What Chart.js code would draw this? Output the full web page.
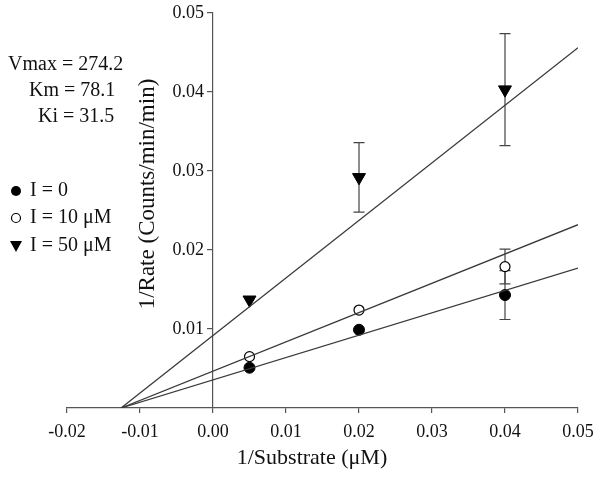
<!DOCTYPE html>
<html>
<head>
<meta charset="utf-8">
<script src="https://cdn.jsdelivr.net/npm/chart.js@4.4.1/dist/chart.umd.min.js"></script>
<style>
  html, body { margin: 0; padding: 0; background: #fff; }
  #wrap { width: 604px; height: 481px; position: relative; }
</style>
</head>
<body>
<div id="wrap"><canvas id="grafico"></canvas></div>
<script>
// Datos (1/[S] y 1/velocidad)
const sustrato = [0.005, 0.02, 0.04];
const tasaI0 = [0.0051, 0.0099, 0.0143];
const tasaI10 = [0.0065, 0.0124, 0.0179];
const tasaI50 = [0.0137, 0.0292, 0.0403];
const errI0 = [0, 0, 0.0031];
const errI10 = [0, 0, 0.0022];
const errI50 = [0, 0.0044, 0.0071];

// Rectas ajustadas: desde el corte con el eje x hasta x = 0.05
const ajusteX = [-0.0126, 0.05];
const ajusteI0 = [0, 0.0177];
const ajusteI10 = [0, 0.0232];
const ajusteI50 = [0, 0.0456];

const ticksX = [-0.02, -0.01, 0, 0.01, 0.02, 0.03, 0.04, 0.05];
const ticksY = [0.01, 0.02, 0.03, 0.04, 0.05];

const constantes = ['Vmax = 274.2', 'Km = 78.1', 'Ki = 31.5'];
const leyenda = ['I = 0', 'I = 10 μM', 'I = 50 μM'];
const tituloX = '1/Substrate (μM)';
const tituloY = '1/Rate (Counts/min/min)';

const fuente = '"Liberation Serif", "Times New Roman", serif';
const colorEje = '#555';
const colorTexto = '#111';

const puntos = (xs, ys) => xs.map((x, i) => ({ x, y: ys[i] }));

// Barras de error (dibujadas antes que los marcadores)
const barrasError = {
  id: 'barrasError',
  beforeDatasetsDraw(chart) {
    const { ctx, scales: { x, y } } = chart;
    ctx.save();
    ctx.strokeStyle = '#444';
    ctx.lineWidth = 1.2;
    chart.data.datasets.forEach(ds => {
      if (!ds.errores) return;
      ds.data.forEach((p, i) => {
        const e = ds.errores[i];
        if (!e) return;
        const px = x.getPixelForValue(p.x);
        const arriba = y.getPixelForValue(p.y + e);
        const abajo = y.getPixelForValue(p.y - e);
        ctx.beginPath();
        ctx.moveTo(px, arriba); ctx.lineTo(px, abajo);
        ctx.moveTo(px - 5.5, arriba); ctx.lineTo(px + 5.5, arriba);
        ctx.moveTo(px - 5.5, abajo); ctx.lineTo(px + 5.5, abajo);
        ctx.stroke();
      });
    });
    ctx.restore();
  }
};

// Textos: constantes, leyenda y títulos de ejes
const textos = {
  id: 'textos',
  afterDraw(chart) {
    const { ctx } = chart;
    ctx.save();
    ctx.fillStyle = colorTexto;
    ctx.textBaseline = 'middle';
    ctx.textAlign = 'left';
    ctx.font = '20px ' + fuente;
    const posConst = [[8, 65], [29, 91], [38, 117]];
    constantes.forEach((t, i) => ctx.fillText(t, posConst[i][0], posConst[i][1]));

    const filas = [191, 218, 246];
    leyenda.forEach((t, i) => ctx.fillText(t, 30, filas[i]));

    // marcadores de la leyenda
    ctx.fillStyle = '#000';
    ctx.strokeStyle = '#000';
    ctx.lineWidth = 1.2;
    ctx.beginPath();
    ctx.arc(16, filas[0], 5, 0, Math.PI * 2);
    ctx.fill();
    ctx.beginPath();
    ctx.arc(16, filas[1], 4.5, 0, Math.PI * 2);
    ctx.fillStyle = '#fff';
    ctx.fill();
    ctx.stroke();
    ctx.fillStyle = '#000';
    ctx.beginPath();
    ctx.moveTo(10, filas[2] - 5);
    ctx.lineTo(22, filas[2] - 5);
    ctx.lineTo(16, filas[2] + 6);
    ctx.closePath();
    ctx.fill();

    ctx.fillStyle = colorTexto;
    ctx.textAlign = 'center';
    ctx.font = '22px ' + fuente;
    ctx.fillText(tituloX, 312, 458);

    ctx.translate(148, 194);
    ctx.rotate(-Math.PI / 2);
    ctx.font = '23px ' + fuente;
    ctx.fillText(tituloY, 0, 0);
    ctx.restore();
  }
};

const ctx = document.getElementById('grafico');

new Chart(ctx, {
  type: 'scatter',
  data: {
    datasets: [
      { data: puntos(ajusteX, ajusteI0), showLine: true, borderColor: '#3a3a3a', borderWidth: 1.3, pointRadius: 0 },
      { data: puntos(ajusteX, ajusteI10), showLine: true, borderColor: '#3a3a3a', borderWidth: 1.3, pointRadius: 0 },
      { data: puntos(ajusteX, ajusteI50), showLine: true, borderColor: '#3a3a3a', borderWidth: 1.3, pointRadius: 0 },
      {
        data: puntos(sustrato, tasaI0), errores: errI0,
        pointStyle: 'circle', pointRadius: 5.5,
        pointBackgroundColor: '#000', pointBorderColor: '#000', pointBorderWidth: 1
      },
      {
        data: puntos(sustrato, tasaI10), errores: errI10,
        pointStyle: 'circle', pointRadius: 5,
        pointBackgroundColor: '#fff', pointBorderColor: '#000', pointBorderWidth: 1.2
      },
      {
        data: puntos(sustrato, tasaI50), errores: errI50,
        pointStyle: 'triangle', pointRotation: 180, pointRadius: 7.5,
        pointBackgroundColor: '#000', pointBorderColor: '#000', pointBorderWidth: 1
      }
    ]
  },
  options: {
    responsive: true,
    maintainAspectRatio: false,
    animation: false,
    layout: { padding: { left: 67, right: 26, top: 9.5, bottom: 0 } },
    plugins: {
      legend: { display: false },
      tooltip: { enabled: false }
    },
    scales: {
      x: {
        type: 'linear',
        position: 'bottom',
        min: -0.02,
        max: 0.05,
        afterBuildTicks: s => { s.ticks = ticksX.map(v => ({ value: v })); },
        afterFit: s => { s.height = 73; },
        ticks: {
          callback: v => v.toFixed(2),
          font: { family: fuente, size: 18 },
          color: colorTexto,
          padding: 8,
          maxRotation: 0,
          autoSkip: false
        },
        grid: { drawOnChartArea: false, tickLength: 5, color: colorEje, lineWidth: 1.2 },
        border: { color: colorEje, width: 1.2 }
      },
      y: {
        type: 'linear',
        position: { x: 0 },
        min: 0,
        max: 0.05,
        afterBuildTicks: s => { s.ticks = ticksY.map(v => ({ value: v })); },
        ticks: {
          // el eje en x = 0 alinea las etiquetas pegadas a la línea: se separan con espacios
          callback: v => v.toFixed(2) + '  ',
          font: { family: fuente, size: 18, lineHeight: 1 },
          color: colorTexto,
          padding: 4
        },
        grid: { drawOnChartArea: false, tickLength: 5, color: colorEje, lineWidth: 1.2 },
        border: { color: colorEje, width: 1.2 }
      }
    }
  },
  plugins: [barrasError, textos]
});
</script>
</body>
</html>
